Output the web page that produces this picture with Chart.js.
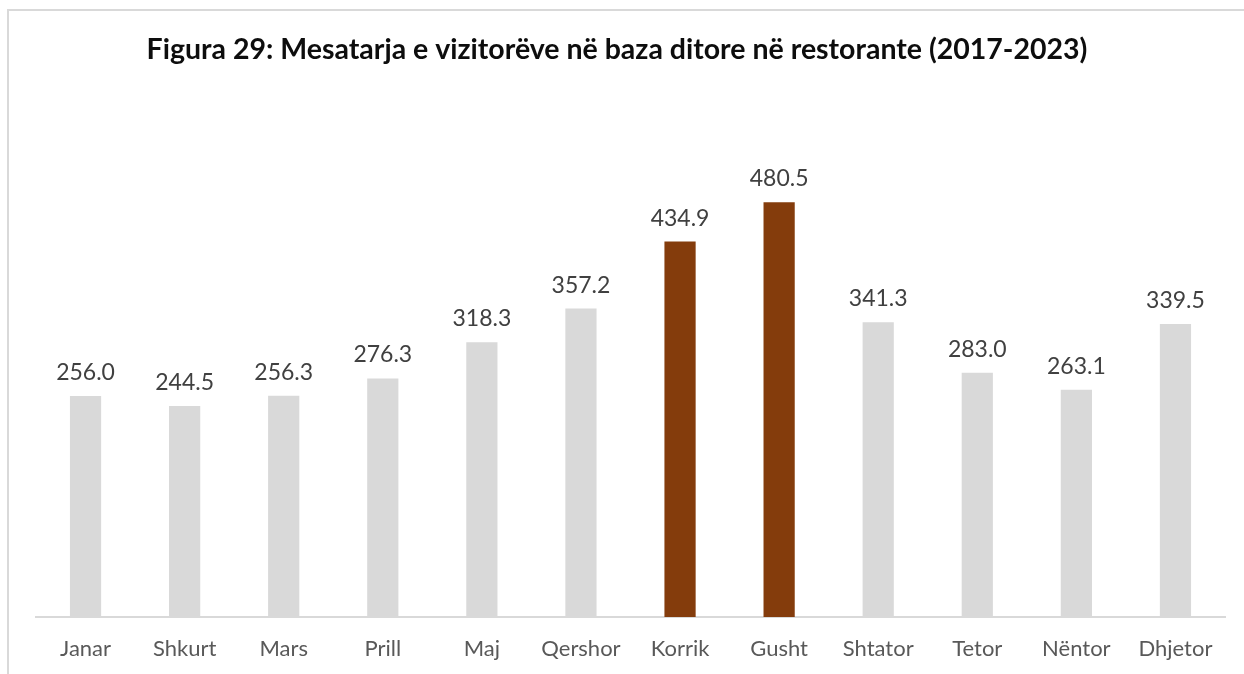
<!DOCTYPE html>
<html>
<head>
<meta charset="utf-8">
<script src="https://cdn.jsdelivr.net/npm/chart.js@4.4.1/dist/chart.umd.min.js"></script>
<style>
  html, body { margin:0; padding:0; background:#fff; overflow:hidden; }
  #frame { position:absolute; left:7px; top:9px; width:1400px; height:800px; border-left:2px solid #d9d9d9; border-top:2px solid #d9d9d9; }
  #wrap { position:absolute; left:0; top:0; width:1244px; height:674px; }
</style>
</head>
<body>
<div id="frame"></div>
<div id="wrap"><canvas id="c" width="1244" height="674"></canvas></div>
<script>
const titleText = "Figura 29: Mesatarja e vizitorëve në baza ditore në restorante (2017-2023)";
const months = ["Janar","Shkurt","Mars","Prill","Maj","Qershor","Korrik","Gusht","Shtator","Tetor","Nëntor","Dhjetor"];
const visitors = [256.0, 244.5, 256.3, 276.3, 318.3, 357.2, 434.9, 480.5, 341.3, 283.0, 263.1, 339.5];
const highlightMonths = ["Korrik","Gusht"];

const GRAY = "#d9d9d9";
const BROWN = "#843c0c";
const FONT = "Lato, 'Open Sans', sans-serif";

const titlePlugin = {
  id: 'customTitle',
  afterDraw(chart) {
    const ctx = chart.ctx;
    ctx.save();
    ctx.font = "bold 28.5px " + FONT;
    ctx.fillStyle = "#0d0d0d";
    ctx.textAlign = "center";
    ctx.textBaseline = "middle";
    ctx.fillText(titleText, 617, 50);
    ctx.restore();
  }
};

const labelPlugin = {
  id: 'valueLabels',
  afterDatasetsDraw(chart) {
    const ctx = chart.ctx;
    const meta = chart.getDatasetMeta(0);
    ctx.save();
    ctx.font = "23px " + FONT;
    ctx.fillStyle = "#404040";
    ctx.textAlign = "center";
    ctx.textBaseline = "alphabetic";
    meta.data.forEach((el, i) => {
      ctx.fillText(visitors[i].toFixed(1), el.x, el.y - 16);
    });
    ctx.restore();
  }
};

new Chart(document.getElementById('c'), {
  type: 'bar',
  data: {
    labels: months,
    datasets: [{
      data: visitors,
      backgroundColor: months.map(m => highlightMonths.includes(m) ? BROWN : GRAY),
      borderWidth: 0,
      barPercentage: 1,
      categoryPercentage: 0.315
    }]
  },
  options: {
    responsive: false,
    animation: false,
    layout: { padding: { left: 36, right: 19, top: 99, bottom: 13 } },
    plugins: { legend: { display: false }, title: { display: false }, tooltip: { enabled: false } },
    scales: {
      y: { display: false, min: 0, max: 600 },
      x: {
        grid: { display: false, drawTicks: false },
        border: { display: true, color: GRAY, width: 2 },
        ticks: { color: "#595959", font: { family: FONT, size: 22 }, padding: 19, maxRotation: 0, autoSkip: false },
        afterFit(scale) { scale.height = 44; }
      }
    }
  },
  plugins: [titlePlugin, labelPlugin]
});
</script>
</body>
</html>
